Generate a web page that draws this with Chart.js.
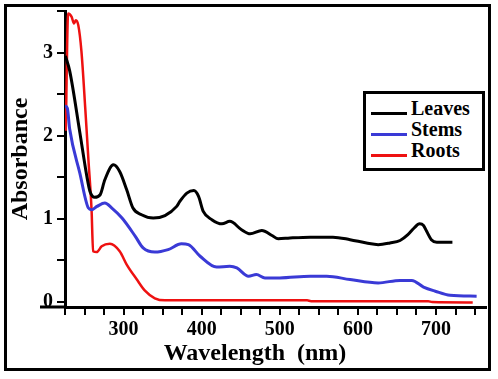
<!DOCTYPE html>
<html>
<head>
<meta charset="utf-8">
<script src="https://cdn.jsdelivr.net/npm/chart.js@4.4.1/dist/chart.umd.min.js"></script>
<style>
  html, body { margin: 0; padding: 0; background: #fff; }
  #wrap { position: relative; width: 498px; height: 379px; overflow: hidden; }
  #frame { position: absolute; left: 4px; top: 4px; width: 481px; height: 361px; border: 3px solid #000; }
  #absChart { position: absolute; left: 0; top: 0; }
  #legend { position: absolute; left: 363px; top: 91px; width: 116px; height: 74px; border: 3px solid #000; background: #fff;
            font: bold 20px "Liberation Serif", "Times New Roman", serif; color: #000; }
  .row { position: absolute; left: 0; height: 20px; line-height: 20px; white-space: nowrap; }
  .swatch { position: absolute; left: 5px; top: 14px; width: 36px; height: 3px; }
  .name { position: absolute; left: 45px; top: 0; }
</style>
</head>
<body>
<div id="wrap">
  <div id="frame"></div>
  <canvas id="absChart" width="498" height="379"></canvas>
  <div id="legend"></div>
</div>
<script>
// values
const seriesNames = ['Leaves', 'Stems', 'Roots'];
const seriesColors = ['#000000', '#3a3ad6', '#ee1111'];

const leavesNm = [225.5, 231, 244, 253, 257, 263, 270, 276, 287, 295, 304, 312, 323, 338, 353, 368, 372, 381, 390, 396,
                  402, 413, 426, 436, 451, 462, 477, 490, 498, 513, 539, 568, 590, 611, 626, 641, 654, 664, 672, 679,
                  684, 688, 694, 701, 721];
const leavesAbs = [2.96, 2.78, 2.04, 1.51, 1.33, 1.26, 1.29, 1.47, 1.65, 1.57, 1.35, 1.13, 1.05, 1.01, 1.04, 1.15, 1.21, 1.31, 1.34, 1.27,
                   1.09, 0.99, 0.94, 0.97, 0.87, 0.82, 0.86, 0.80, 0.76, 0.77, 0.78, 0.78, 0.75, 0.71, 0.69, 0.71, 0.74, 0.81, 0.89, 0.94,
                   0.92, 0.85, 0.75, 0.72, 0.72];

const stemsNm = [225, 228, 231, 244, 255, 259, 266, 276, 285, 298, 315, 325, 340, 357, 374, 383, 398, 419, 436, 445,
                 460, 470, 481, 500, 539, 560, 590, 626, 654, 669, 684, 699, 718, 752];
const stemsAbs = [2.36, 2.33, 2.08, 1.55, 1.13, 1.11, 1.15, 1.19, 1.13, 1.01, 0.79, 0.65, 0.60, 0.63, 0.70, 0.69, 0.55, 0.42, 0.43, 0.41,
                  0.31, 0.33, 0.29, 0.29, 0.31, 0.31, 0.27, 0.23, 0.26, 0.26, 0.18, 0.13, 0.08, 0.07];

const rootsNm = [226, 229, 233.5, 236.5, 239, 242, 246, 251, 255, 259, 261, 265.5, 272, 282.5, 295, 304, 317, 327, 340, 353,
                 535, 540, 690, 695, 747];
const rootsAbs = [2.06, 3.47, 3.43, 3.35, 3.39, 3.33, 3.02, 2.32, 1.71, 1.11, 0.61, 0.60, 0.67, 0.70, 0.61, 0.45, 0.27, 0.14, 0.045, 0.02,
                  0.02, 0.01, 0.01, 0.0, -0.005];

const xLabels = [300, 400, 500, 600, 700];
const yLabels = [0, 1, 2, 3];
const xTitle = 'Wavelength  (nm)';
const yTitle = 'Absorbance';

const pts = (xs, ys) => xs.map((x, i) => ({ x: x, y: ys[i] }));
const seriesData = [pts(leavesNm, leavesAbs), pts(stemsNm, stemsAbs), pts(rootsNm, rootsAbs)];
const widths = [3, 3, 2.5];

const FONT = '"Liberation Serif", "Times New Roman", serif';

// x axis line runs on a bit past the y axis, and the x title sits left of centre
const axisExtras = {
    id: 'axisExtras',
    afterDraw(chart) {
        const ctx = chart.ctx;
        const area = chart.chartArea;
        ctx.save();
        ctx.strokeStyle = '#000';
        ctx.lineWidth = 3;
        ctx.beginPath();
        ctx.moveTo(area.left - 25, area.bottom);
        ctx.lineTo(area.left, area.bottom);
        ctx.stroke();
        ctx.fillStyle = '#000';
        ctx.font = 'bold 24px ' + FONT;
        ctx.textAlign = 'center';
        ctx.textBaseline = 'alphabetic';
        ctx.fillText(xTitle, area.left + 190, 360);
        ctx.restore();
    }
};

const isLabel = (v, list) => list.some(l => Math.abs(l - v) < 1e-6);

new Chart(document.getElementById('absChart'), {
    type: 'line',
    data: {
        datasets: seriesNames.map((name, i) => ({
            label: name,
            data: seriesData[i],
            borderColor: seriesColors[i],
            borderWidth: widths[i],
            pointRadius: 0,
            fill: false,
            cubicInterpolationMode: 'monotone'
        }))
    },
    options: {
        responsive: false,
        animation: false,
        layout: { padding: { left: 4, right: 12, top: 11, bottom: 12 } },
        plugins: { legend: { display: false }, tooltip: { enabled: false } },
        scales: {
            x: {
                type: 'linear',
                min: 225,
                max: 764,
                afterBuildTicks: s => { s.ticks = s.ticks.filter(t => t.value % 25 === 0 && t.value <= 750); },
                afterFit: s => { s.height = 60; s.paddingLeft = 0; s.paddingRight = 0; },
                ticks: {
                    stepSize: 25,
                    includeBounds: false,
                    autoSkip: false,
                    maxRotation: 0,
                    padding: 3,
                    color: '#000',
                    font: { family: FONT, size: 20, weight: 'bold' },
                    callback: v => isLabel(v, xLabels) ? String(v) : ''
                },
                grid: { drawOnChartArea: false, color: '#000', lineWidth: 2, tickLength: 8 },
                border: { color: '#000', width: 3 }
            },
            y: {
                min: -0.06,
                max: 3.5,
                afterFit: s => { s.width = 61; s.paddingTop = 0; s.paddingBottom = 0; },
                ticks: {
                    stepSize: 0.5,
                    includeBounds: false,
                    autoSkip: false,
                    padding: 4,
                    color: '#000',
                    font: { family: FONT, size: 20, weight: 'bold' },
                    callback: v => isLabel(v, yLabels) ? String(Math.round(v)) : ''
                },
                grid: { drawOnChartArea: false, color: '#000', lineWidth: 2, tickLength: 8 },
                border: { color: '#000', width: 3 },
                title: {
                    display: true,
                    text: yTitle,
                    color: '#000',
                    font: { family: FONT, size: 24, weight: 'bold' },
                    padding: { top: 2, bottom: 0 }
                }
            }
        }
    },
    plugins: [axisExtras]
});

// legend box inside the plot, top right
const legend = document.getElementById('legend');
seriesNames.forEach((name, i) => {
    const row = document.createElement('div');
    row.className = 'row';
    row.style.top = (4 + i * 21) + 'px';
    row.innerHTML = '<span class="swatch" style="background:' + seriesColors[i] + '"></span><span class="name">' + name + '</span>';
    legend.appendChild(row);
});
</script>
</body>
</html>
